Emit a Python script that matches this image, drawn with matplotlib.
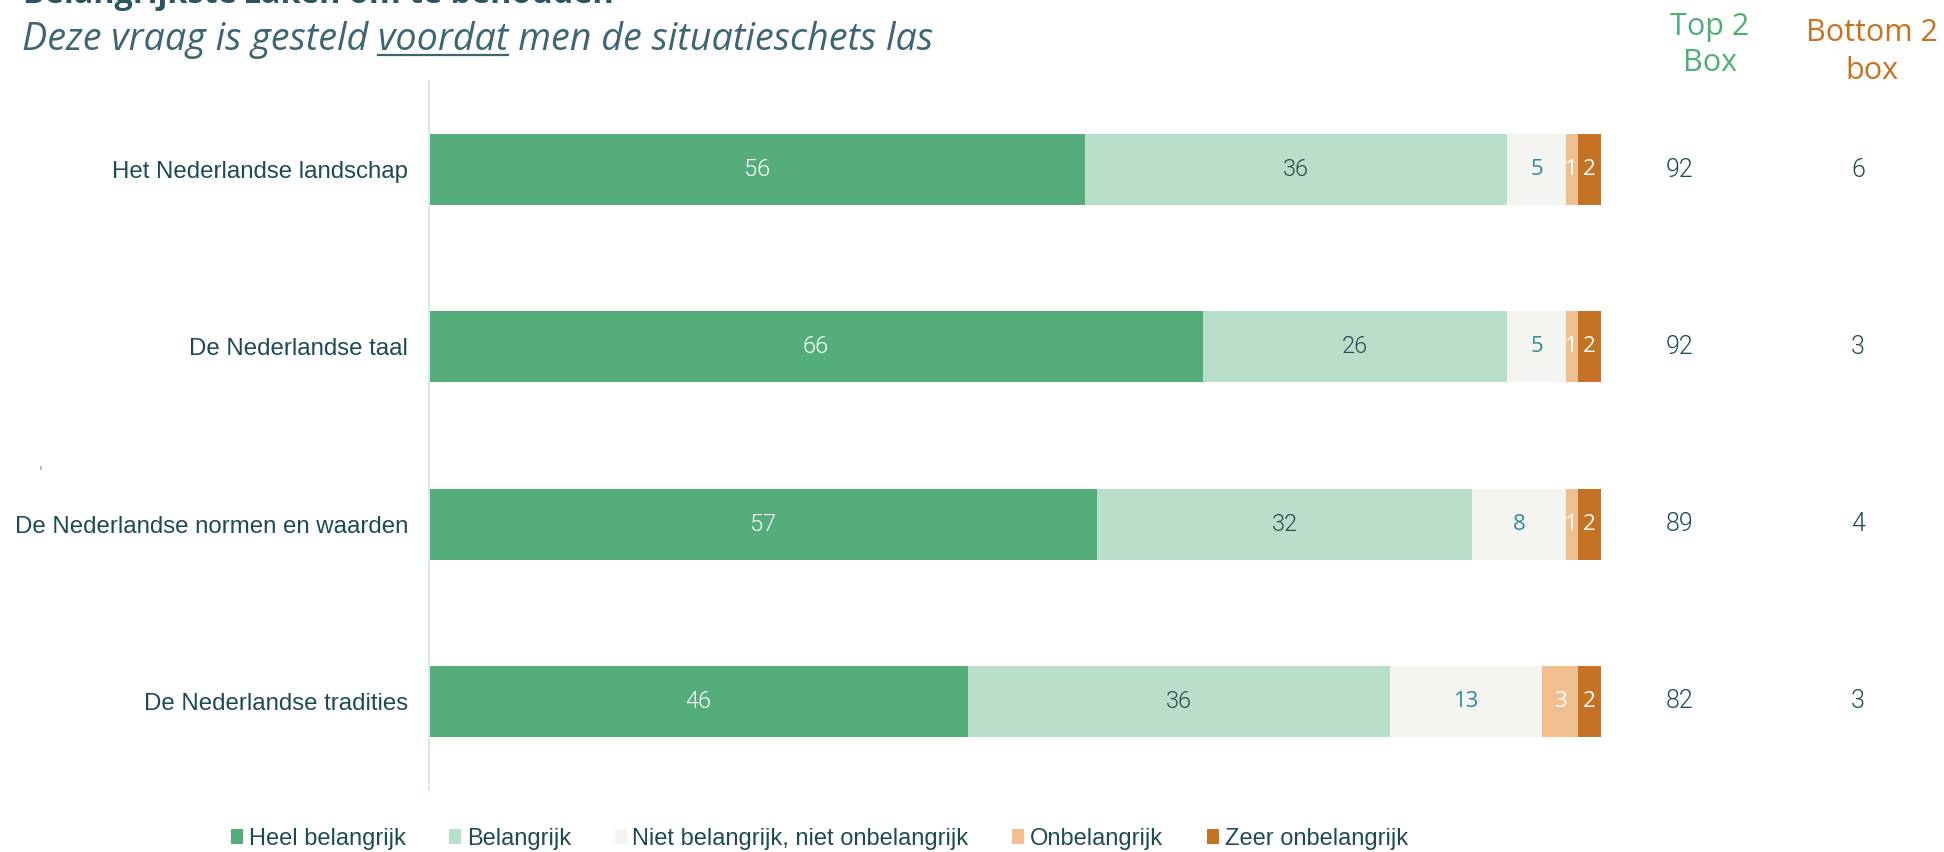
import matplotlib
matplotlib.use("Agg")
import matplotlib.pyplot as plt
from matplotlib.patches import Patch
from matplotlib.lines import Line2D
import matplotlib.transforms as mtransforms

# ---------------- data ----------------
categories = ["Het Nederlandse landschap", "De Nederlandse taal",
              "De Nederlandse normen en waarden", "De Nederlandse tradities"]
series_names = ["Heel belangrijk", "Belangrijk", "Niet belangrijk, niet onbelangrijk",
                "Onbelangrijk", "Zeer onbelangrijk"]
heel = [56, 66, 57, 46]
belangrijk = [36, 26, 32, 36]
neutraal = [5, 5, 8, 13]
onbelangrijk = [1, 1, 1, 3]
zeer_onbelangrijk = [2, 2, 2, 2]
top2 = [92, 92, 89, 82]
bottom2 = [6, 3, 4, 3]

title = "Belangrijkste zaken om te behouden"
subtitle_parts = ["Deze vraag is gesteld ", "voordat", " men de situatieschets las"]

# ---------------- style ----------------
colors = ["#55ad7b", "#b9dfcb", "#f4f5f0", "#f1bf8f", "#c57224"]
label_colors = ["white", "#2d4a4f", "#2d8b9e", "white", "white"]
dark = "#1f4a52"
sub_col = "#3d6672"
green_head = "#4fae78"
orange_head = "#c8721f"
thin_font = "Roboto"
thin_weight = 300
label_font = "Liberation Sans"

W, H = 1944, 852
fig = plt.figure(figsize=(W / 100, H / 100), dpi=100)
ax = fig.add_axes([429 / W, 62 / H, 1172 / W, 709 / H])

series = [heel, belangrijk, neutraal, onbelangrijk, zeer_onbelangrijk]
y = list(range(len(categories)))
left = [0] * len(categories)
for si, (vals, c) in enumerate(zip(series, colors)):
    ax.barh(y, vals, left=left, height=0.4, color=c, linewidth=0, label=series_names[si])
    for i, v in enumerate(vals):
        if si < 2:
            fam, fs, wt = thin_font, 17, thin_weight
        else:
            fam, fs, wt = "Open Sans", 16, "normal"
        ax.text(left[i] + v / 2, i, str(v), ha="center", va="center",
                color=label_colors[si], fontsize=fs, family=fam, fontweight=wt)
    left = [l + v for l, v in zip(left, vals)]

ax.set_xlim(0, 100)
ax.set_ylim(3.5, -0.5)
for s in ["top", "right", "bottom"]:
    ax.spines[s].set_visible(False)
ax.spines["left"].set_color("#d3eaf0")
ax.spines["left"].set_linewidth(1.5)
ax.set_xticks([])
ax.set_yticks(y)
ax.set_yticklabels(categories, fontsize=17.3, color=dark, family=label_font)
ax.tick_params(axis="y", length=0, pad=15)

# Top 2 / Bottom 2 columns
tr = mtransforms.blended_transform_factory(fig.transFigure, ax.transData)
for i in y:
    ax.text(1680 / W, i, str(top2[i]), transform=tr, ha="center", va="center",
            fontsize=18, color=dark, family=thin_font, fontweight=thin_weight)
    ax.text(1858 / W, i, str(bottom2[i]), transform=tr, ha="center", va="center",
            fontsize=18, color=dark, family=thin_font, fontweight=thin_weight)

fig.text(1710 / W, 1 - 45 / H, "Top 2\nBox", ha="center", va="center",
         fontsize=22, color=green_head, family="Open Sans", linespacing=1.3)
fig.text(1872 / W, 1 - 52 / H, "Bottom 2\nbox", ha="center", va="center",
         fontsize=22, color=orange_head, family="Open Sans", linespacing=1.35)

# Titles
renderer = fig.canvas.get_renderer()
t1 = fig.text(23 / W, 1 - 3 / H, title, ha="left", va="baseline", fontsize=22,
              color="#2c5560", family="Open Sans", fontweight="bold")
w1 = t1.get_window_extent(renderer).width
t1.set_fontsize(22 * 588 / w1)

full_sub = "".join(subtitle_parts)
st = fig.text(22 / W, 1 - 50 / H, full_sub, ha="left", va="baseline", fontsize=22,
              color=sub_col, family="Open Sans", style="italic")
ws = st.get_window_extent(renderer).width
fs_sub = 22 * 910 / ws
st.set_fontsize(fs_sub)


def text_width(s):
    t = fig.text(0, 0, s, fontsize=fs_sub, family="Open Sans", style="italic")
    w = t.get_window_extent(renderer).width
    t.remove()
    return w

x0 = 22 + text_width(subtitle_parts[0] + "x") - text_width("x")
x1 = 22 + text_width(subtitle_parts[0] + subtitle_parts[1])
yl = 1 - 55 / H
fig.add_artist(Line2D([x0 / W, x1 / W], [yl, yl], transform=fig.transFigure,
                      color=sub_col, linewidth=1.6))

# stray mark
fig.text(41 / W, 1 - 472 / H, "'", ha="center", va="center", fontsize=10, color="#7f9499")

# Legend
handles = [Patch(facecolor=c, edgecolor="none") for c in colors]
leg = fig.legend(handles, series_names, loc="center left",
                 bbox_to_anchor=(231 / W, 1 - 839 / H), ncol=5, frameon=False,
                 handlelength=0.5, handleheight=0.6, handletextpad=0.25,
                 columnspacing=1.85, borderaxespad=0, borderpad=0,
                 prop={"family": label_font, "size": 17})
for t in leg.get_texts():
    t.set_color(dark)

fig.savefig("out.png", dpi=100)
